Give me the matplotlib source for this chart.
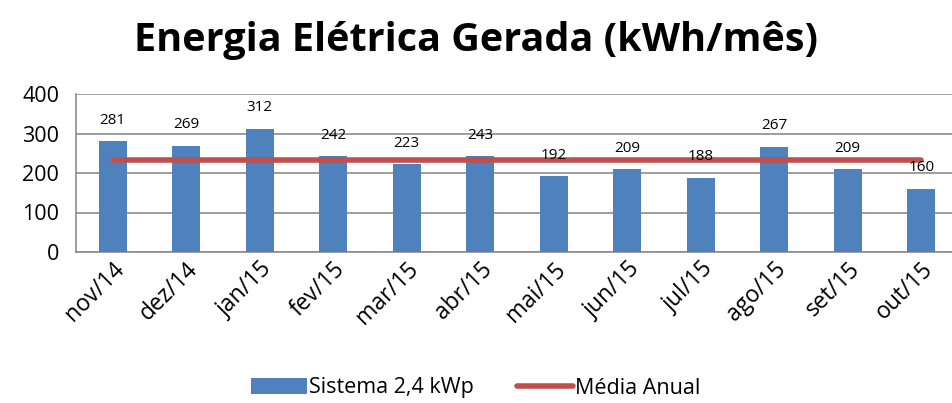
import matplotlib
matplotlib.use("Agg")
import matplotlib.pyplot as plt
from matplotlib.lines import Line2D
from matplotlib.patches import Patch

plt.rcParams['font.family'] = ['Open Sans', 'DejaVu Sans']

months = ["nov/14", "dez/14", "jan/15", "fev/15", "mar/15", "abr/15",
          "mai/15", "jun/15", "jul/15", "ago/15", "set/15", "out/15"]
energia = [281, 269, 312, 242, 223, 243, 192, 209, 188, 267, 209, 160]
media_anual = [233] * 12
yticks = [0, 100, 200, 300, 400]

bar_color = "#4F81BD"
line_color = "#C0504D"
grid_color = "#8C8C8C"

fig = plt.figure(figsize=(9.52, 4.03), dpi=100)
W, H = 952, 403
ax_left, ax_right, ax_top, ax_bottom = 76, 958, 94, 252
ax = fig.add_axes([ax_left / W, 1 - ax_bottom / H, (ax_right - ax_left) / W, (ax_bottom - ax_top) / H])

x = list(range(len(months)))
ax.bar(x, energia, width=0.38, color=bar_color, zorder=3)
ax.plot(x, media_anual, color=line_color, linewidth=4, solid_capstyle='round', zorder=4)

for xi, v in zip(x, energia):
    ax.annotate(str(v), (xi, v), xytext=(0, 15), textcoords='offset points',
                ha='center', va='center', fontsize=11, color='black', zorder=5)

ax.set_xlim(-0.5, len(months) - 0.5)
ax.set_ylim(0, 400)
ax.set_yticks(yticks)
ax.set_yticklabels([str(t) for t in yticks], fontsize=15.5)
ax.yaxis.grid(True, color=grid_color, linewidth=1.2, zorder=0)
ax.set_axisbelow(True)
ax.tick_params(axis='y', length=0, pad=12)
ax.tick_params(axis='x', length=0, pad=4)
ax.set_xticks(x)
ax.set_xticklabels(months, rotation=45, ha='right', rotation_mode='anchor', fontsize=16.5)
for s in ['top', 'right']:
    ax.spines[s].set_visible(False)
for s in ['left', 'bottom']:
    ax.spines[s].set_color(grid_color)
    ax.spines[s].set_linewidth(1.2)

fig.text(0.5, 1 - 40 / H, "Energia Elétrica Gerada (kWh/mês)", ha='center', va='center',
         fontsize=28.5, fontweight='bold')

handles = [Patch(facecolor=bar_color, label="Sistema 2,4 kWp"),
           Line2D([0], [0], color=line_color, linewidth=4, solid_capstyle='round', label="Média Anual")]
fig.legend(handles=handles, loc='center', bbox_to_anchor=(0.5, 1 - 388 / H), ncol=2, frameon=False,
           fontsize=15.5, handlelength=2.6, columnspacing=2.0, handletextpad=0.1)

fig.savefig("out.png", dpi=100)
